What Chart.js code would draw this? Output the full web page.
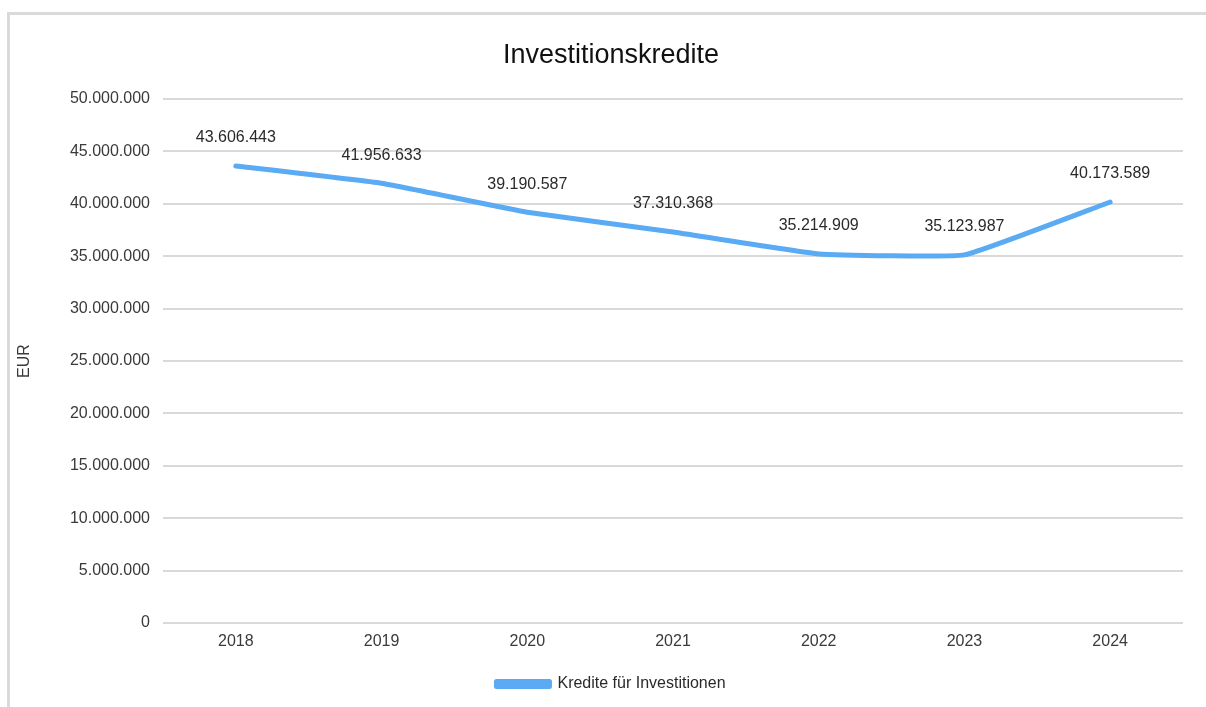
<!DOCTYPE html>
<html>
<head>
<meta charset="utf-8">
<script src="https://cdn.jsdelivr.net/npm/chart.js@4.4.1/dist/chart.umd.min.js"></script>
<style>
  html, body { margin: 0; padding: 0; background: #ffffff; width: 1206px; height: 707px; overflow: hidden; }
  #frame { position: absolute; left: 7px; top: 12px; width: 1220px; height: 720px;
           border-top: 3px solid #dadada; border-left: 3px solid #dadada; }
  #wrap { position: absolute; left: 0; top: 0; width: 1206px; height: 707px; }
</style>
</head>
<body>
<div id="frame"></div>
<div id="wrap"><canvas id="c" width="1206" height="707"></canvas></div>
<script>
const categories = ['2018', '2019', '2020', '2021', '2022', '2023', '2024'];
const seriesName = 'Kredite für Investitionen';
const values = [43606443, 41956633, 39190587, 37310368, 35214909, 35123987, 40173589];
const chartTitle = 'Investitionskredite';
const yAxisTitle = 'EUR';

const FONT = '"Liberation Sans", Arial, sans-serif';
const TEXT = '#3a3a3a';
const LINE = '#5aabf3';

const fmt = v => Math.round(v).toLocaleString('de-DE');

const labelPlugin = {
  id: 'valueLabels',
  afterDatasetsDraw(chart) {
    const ctx = chart.ctx;
    const meta = chart.getDatasetMeta(0);
    ctx.save();
    ctx.font = '16px ' + FONT;
    ctx.fillStyle = '#2a2a2a';
    ctx.textAlign = 'center';
    ctx.textBaseline = 'middle';
    meta.data.forEach((pt, i) => {
      ctx.fillText(fmt(values[i]), pt.x, pt.y - 28);
    });
    ctx.restore();
  }
};

new Chart(document.getElementById('c'), {
  type: 'line',
  data: {
    labels: categories,
    datasets: [{
      label: seriesName,
      data: values,
      borderColor: LINE,
      backgroundColor: LINE,
      borderWidth: 5,
      borderCapStyle: 'round',
      borderJoinStyle: 'round',
      pointRadius: 0,
      pointHoverRadius: 0,
      tension: 0.1,
      fill: false
    }]
  },
  options: {
    responsive: false,
    animation: false,
    layout: { padding: { left: 39, right: 23, top: 20, bottom: 5 } },
    plugins: {
      title: {
        display: true,
        text: chartTitle,
        color: '#111111',
        font: { family: FONT, size: 27, weight: 'normal' },
        padding: { top: 19, bottom: 27.6 }
      },
      legend: {
        display: true,
        position: 'bottom',
        labels: {
          color: '#2a2a2a',
          font: { family: FONT, size: 16 },
          boxWidth: 53,
          boxHeight: 5,
          padding: 10
        }
      },
      tooltip: { enabled: false }
    },
    scales: {
      x: {
        offset: true,
        grid: { display: false, drawTicks: false },
        border: { display: false },
        ticks: { color: TEXT, font: { family: FONT, size: 16 }, padding: 9 },
        afterFit(scale) { scale.height = 43; }
      },
      y: {
        min: 0,
        max: 50000000,
        grid: { color: '#d9d9d9', lineWidth: 2, drawTicks: false },
        border: { display: false },
        ticks: {
          stepSize: 5000000,
          color: TEXT,
          font: { family: FONT, size: 16 },
          padding: 13,
          callback: v => fmt(v)
        },
        title: {
          display: true,
          text: yAxisTitle,
          color: TEXT,
          font: { family: FONT, size: 16 },
          padding: { top: -24, bottom: 0 }
        },
        afterFit(scale) { scale.width = 124; }
      }
    }
  },
  plugins: [labelPlugin]
});
</script>
</body>
</html>
